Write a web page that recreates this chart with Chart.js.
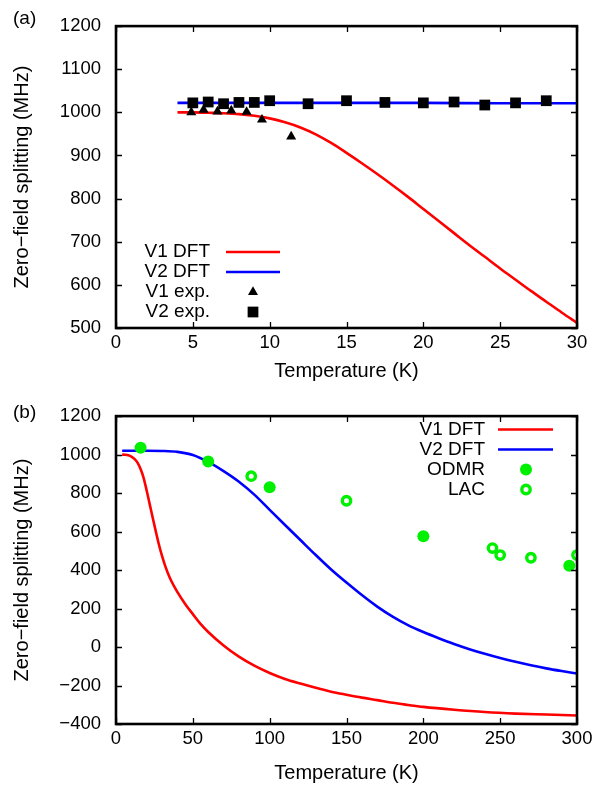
<!DOCTYPE html>
<html><head><meta charset="utf-8">
<script src="https://cdn.jsdelivr.net/npm/chart.js@4.4.1/dist/chart.umd.min.js"></script>
<style>
html,body{margin:0;padding:0;background:#fff;}
#wrap{position:relative;width:606px;height:788px;overflow:hidden;background:#fff;}
canvas{position:absolute;left:0;}
.pl{position:absolute;left:13px;font:19px "Liberation Sans",Arial,sans-serif;color:#000;line-height:22px;}
</style></head><body>
<div id="wrap">
<canvas id="c1" width="606" height="390" style="top:0px"></canvas>
<canvas id="c2" width="606" height="398" style="top:390px"></canvas>
<div class="pl" style="top:7px">(a)</div>
<div class="pl" style="top:401px">(b)</div>
</div>
<script>
// ---------- Panel (a) data ----------
const topV1DftT = [4,5,6,7,8,9,10,11,12,13,14,15,16,17,18,19,20,21,22,23,24,25,26,27,28,29,30];
const topV1DftV = [1000,1000,999,998,996,992,986,977,965,949,929,906,882,857,831,804,776,748,720,692,665,638,612,586,561,536,512];
const topV2DftT = [4,10,15,20,25,30];
const topV2DftV = [1022,1022,1022,1022,1021,1021];
const topV1ExpT = [4.9,5.7,6.6,7.5,8.5,9.5,11.4];
const topV1ExpV = [1000,1006,1002,1004,1001,983,944];
const topV2ExpT = [5,6,7,8,9,10,12.5,15,17.5,20,22,24,26,28];
const topV2ExpV = [1022,1024,1020,1023,1023,1027,1020,1027,1023,1022,1024,1017,1022,1027];
const topXTicks = {min:0, max:30, step:5};
const topYTicks = {min:500, max:1200, step:100};

// ---------- Panel (b) data ----------
const botV1DftT = [4,6,8,10,12,14,16,18,20,22,24,26,28,30,32,35,40,45,50,55,60,70,80,90,100,110,120,130,140,150,160,170,180,190,200,220,240,260,280,300];
const botV1DftV = [1000,999,996,990,978,958,925,878,812,740,668,597,530,472,422,360,285,224,171,120,78,8,-50,-97,-135,-166,-190,-212,-232,-248,-263,-276,-290,-301,-311,-326,-338,-346,-351,-356];
const botV2DftT = [4,10,20,30,40,50,60,70,80,90,100,110,120,130,140,150,160,170,180,190,200,210,220,230,240,250,260,270,280,290,300];
const botV2DftV = [1020,1020,1020,1019,1014,998,962,914,859,792,713,634,556,478,403,335,270,210,158,114,78,46,16,-11,-35,-57,-77,-95,-111,-125,-138];
const odmrT = [16,60,100,200,295];
const odmrV = [1036,964,830,576,422];
const lacT = [88,150,245,250,270,300];
const lacV = [888,760,514,478,464,478];
const botXTicks = {min:0, max:300, step:50};
const botYTicks = {min:-400, max:1200, step:200};

const xTitle = 'Temperature (K)';
const yTitle = 'Zero\u2212field splitting (MHz)';

const RED = '#ff0000', BLUE = '#0000ff', GREEN = 'rgb(0,240,0)';
const FONT = '"Liberation Sans", Arial, sans-serif';
Chart.defaults.font.family = FONT;
Chart.defaults.font.size = 18.5;
Chart.defaults.color = '#000';

const pts = (xs, ys) => xs.map((x, i) => ({x: x, y: ys[i]}));

function drawMark(ctx, style, x, y, r, fill, stroke, bw) {
  ctx.beginPath();
  if (style === 'triangle') {
    ctx.moveTo(x, y - r);
    ctx.lineTo(x + r * 0.8660254, y + r * 0.5);
    ctx.lineTo(x - r * 0.8660254, y + r * 0.5);
    ctx.closePath();
  } else if (style === 'rect') {
    const s = Math.SQRT1_2 * r;
    ctx.rect(x - s, y - s, 2 * s, 2 * s);
  } else {
    ctx.arc(x, y, r, 0, Math.PI * 2);
  }
  if (fill) { ctx.fillStyle = fill; ctx.fill(); }
  if (stroke && bw) { ctx.lineWidth = bw; ctx.strokeStyle = stroke; ctx.stroke(); }
}

const framePlugin = {
  id: 'frame',
  afterDatasetsDraw(chart) {
    const {ctx, chartArea: a} = chart;
    const x = chart.scales.x, y = chart.scales.y;
    ctx.save();
    ctx.strokeStyle = '#000';
    ctx.lineWidth = 1.3;
    const tl = 6;
    ctx.beginPath();
    x.ticks.forEach(t => {
      const px = Math.round(x.getPixelForValue(t.value)) + 0.5;
      ctx.moveTo(px, a.bottom); ctx.lineTo(px, a.bottom - tl);
      ctx.moveTo(px, a.top); ctx.lineTo(px, a.top + tl);
    });
    y.ticks.forEach(t => {
      const py = Math.round(y.getPixelForValue(t.value)) + 0.5;
      ctx.moveTo(a.left, py); ctx.lineTo(a.left + tl, py);
      ctx.moveTo(a.right, py); ctx.lineTo(a.right - tl, py);
    });
    ctx.stroke();
    ctx.lineWidth = 2.6;
    ctx.strokeRect(a.left, a.top, a.right - a.left, a.bottom - a.top);
    ctx.restore();
  }
};

const legendPlugin = {
  id: 'glegend',
  afterDatasetsDraw(chart, args, opts) {
    const ctx = chart.ctx;
    ctx.save();
    ctx.font = opts.fontSize + 'px ' + FONT;
    ctx.textAlign = 'right';
    ctx.textBaseline = 'middle';
    opts.items.forEach((it, i) => {
      const ds = chart.data.datasets[it.ds];
      const yy = opts.y0 + i * opts.dy;
      ctx.fillStyle = '#000';
      ctx.fillText(ds.label, opts.textRight, yy);
      if (it.kind === 'line') {
        ctx.beginPath();
        ctx.strokeStyle = ds.borderColor;
        ctx.lineWidth = ds.borderWidth;
        ctx.moveTo(opts.lineX0, yy); ctx.lineTo(opts.lineX1, yy);
        ctx.stroke();
      } else {
        drawMark(ctx, ds.pointStyle, opts.markX, yy, ds.pointRadius,
          ds.pointBackgroundColor, ds.pointBorderColor, ds.pointBorderWidth);
      }
    });
    ctx.restore();
  }
};

const minusFmt = v => String(v).replace('-', '\u2212');

function makeOptions(xt, yt, padTop, xAxisH, xTitlePad, legend) {
  return {
    responsive: false,
    animation: false,
    events: [],
    layout: {padding: {left: 0, right: 29, top: padTop, bottom: 0}},
    plugins: {legend: {display: false}, tooltip: {enabled: false}, glegend: legend},
    scales: {
      x: {
        type: 'linear', min: xt.min, max: xt.max,
        grid: {display: false, drawTicks: false},
        border: {display: false},
        ticks: {stepSize: xt.step, padding: 4, maxRotation: 0, font: {size: 18.5}, color: '#000', callback: minusFmt},
        title: {display: true, text: xTitle, font: {size: 20}, color: '#000', padding: {top: 0, bottom: xTitlePad}},
        afterFit(s) { s.height = xAxisH; }
      },
      y: {
        type: 'linear', min: yt.min, max: yt.max,
        grid: {display: false, drawTicks: false},
        border: {display: false},
        ticks: {stepSize: yt.step, padding: 15, font: {size: 18.5}, color: '#000', callback: minusFmt},
        title: {display: true, text: yTitle, font: {size: 20}, color: '#000', padding: {top: 10, bottom: 0}},
        afterFit(s) { s.width = 116; }
      }
    }
  };
}

const lineDs = (label, xs, ys, color) => ({
  label: label, data: pts(xs, ys), showLine: true, borderColor: color, borderWidth: 2.6,
  pointRadius: 0, fill: false, cubicInterpolationMode: 'monotone', order: 2
});

new Chart(document.getElementById('c1'), {
  type: 'scatter',
  data: {datasets: [
    lineDs('V1 DFT', topV1DftT, topV1DftV, RED),
    lineDs('V2 DFT', topV2DftT, topV2DftV, BLUE),
    {label: 'V1 exp.', data: pts(topV1ExpT, topV1ExpV), showLine: false, pointStyle: 'triangle',
     pointRadius: 5.8, pointBackgroundColor: '#000', pointBorderColor: '#000', pointBorderWidth: 0, order: 1},
    {label: 'V2 exp.', data: pts(topV2ExpT, topV2ExpV), showLine: false, pointStyle: 'rect',
     pointRadius: 7.6, pointBackgroundColor: '#000', pointBorderColor: '#000', pointBorderWidth: 0, order: 0}
  ]},
  options: makeOptions(topXTicks, topYTicks, 17, 62, 7,
    {fontSize: 19, textRight: 210, lineX0: 226, lineX1: 280, markX: 253, y0: 252, dy: 20,
     items: [{ds: 0, kind: 'line'}, {ds: 1, kind: 'line'}, {ds: 2, kind: 'mark'}, {ds: 3, kind: 'mark'}]}),
  plugins: [framePlugin, legendPlugin]
});

new Chart(document.getElementById('c2'), {
  type: 'scatter',
  data: {datasets: [
    lineDs('V1 DFT', botV1DftT, botV1DftV, RED),
    lineDs('V2 DFT', botV2DftT, botV2DftV, BLUE),
    {label: 'ODMR', data: pts(odmrT, odmrV), showLine: false, pointStyle: 'circle',
     pointRadius: 6, pointBackgroundColor: GREEN, pointBorderColor: GREEN, pointBorderWidth: 0, order: 1},
    {label: 'LAC', data: pts(lacT, lacV), showLine: false, pointStyle: 'circle', clip: 0,
     pointRadius: 4.2, pointBackgroundColor: 'rgba(0,0,0,0)', pointBorderColor: GREEN, pointBorderWidth: 3.4, order: 0}
  ]},
  options: makeOptions(botXTicks, botYTicks, 23, 64, 3,
    {fontSize: 19, textRight: 485, lineX0: 498, lineX1: 553, markX: 526, y0: 39.5, dy: 20,
     items: [{ds: 0, kind: 'line'}, {ds: 1, kind: 'line'}, {ds: 2, kind: 'mark'}, {ds: 3, kind: 'mark'}]}),
  plugins: [framePlugin, legendPlugin]
});
</script>
</body></html>
